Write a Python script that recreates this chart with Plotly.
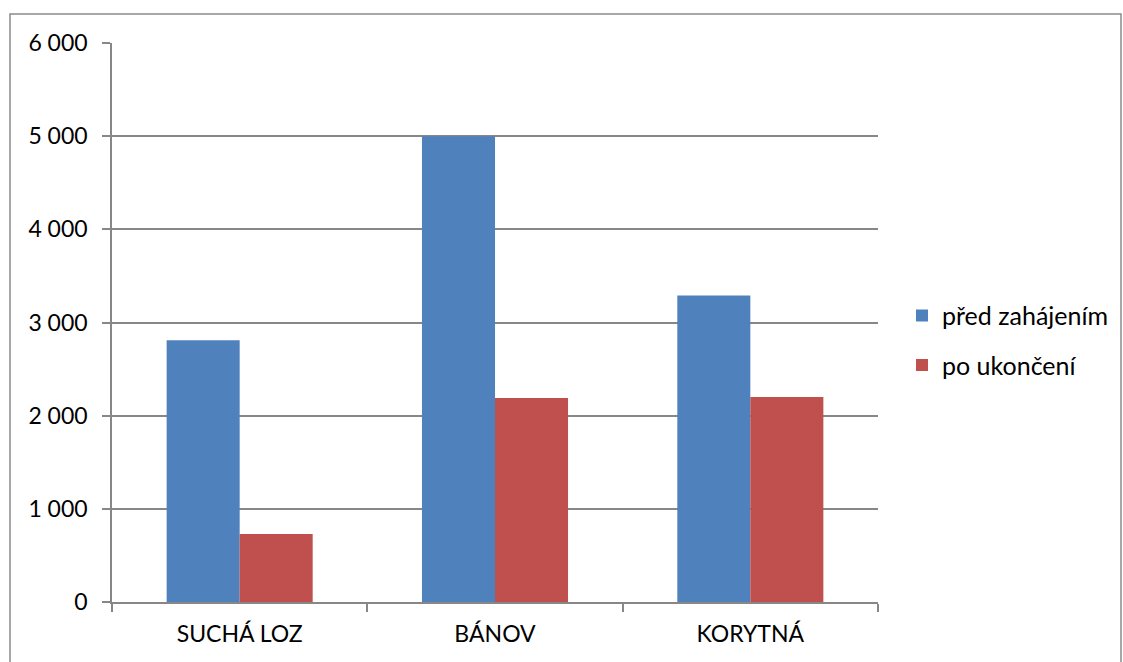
import plotly.graph_objects as go

# Obce a počty před zahájením / po ukončení
categories = ["SUCHÁ LOZ", "BÁNOV", "KORYTNÁ"]
pred_zahajenim = [2810, 5000, 3290]
po_ukonceni = [730, 2190, 2200]
series_names = ["před zahájením", "po ukončení"]
y_ticks = [0, 1000, 2000, 3000, 4000, 5000, 6000]

W, H = 1123, 662
L, R, T, B = 112, 245, 42.5, 59.7
plot_w = W - L - R
plot_h = H - T - B

FONT = "Lato"
FS_TICK = 23
FS_LEG = 25
GRID = "#878787"

fig = go.Figure()
fig.add_trace(go.Bar(
    x=categories, y=pred_zahajenim, name=series_names[0],
    marker=dict(color="#4F81BD", line=dict(width=0)),
    legendgroup="a",
))
fig.add_trace(go.Bar(
    x=categories, y=po_ukonceni, name=series_names[1],
    marker=dict(color="#C0504D", line=dict(width=0)),
    legendgroup="b",
))

# outer chart frame
def px_x(v):
    return (v - L) / plot_w

def px_y(v):
    return (H - B - v) / plot_h

fig.add_shape(
    type="rect", xref="paper", yref="paper",
    x0=px_x(10), x1=px_x(1121), y0=px_y(700), y1=px_y(13.5),
    line=dict(color="#8a8a8a", width=1.5), fillcolor="rgba(0,0,0,0)",
    layer="below",
)

fig.update_layout(
    width=W, height=H,
    margin=dict(l=L, r=R, t=T, b=B, pad=0, autoexpand=False),
    paper_bgcolor="white", plot_bgcolor="white",
    barmode="group", bargap=0.428, bargroupgap=0,
    separators=", ",
    font=dict(family=FONT, size=FS_TICK, color="#000000"),
    showlegend=True,
    legend=dict(
        x=px_x(902), y=px_y(292.5), xanchor="left", yanchor="top",
        font=dict(family=FONT, size=FS_LEG, color="#000000"),
        tracegroupgap=14, traceorder="grouped",
        bgcolor="rgba(0,0,0,0)",
    ),
)

fig.update_xaxes(
    showline=True, linecolor=GRID, linewidth=1.5,
    ticks="outside", tickson="boundaries", ticklen=8, tickcolor=GRID, tickwidth=1.5,
    showgrid=False, ticklabelstandoff=11,
    tickfont=dict(family=FONT, size=FS_TICK, color="#000000"),
)
fig.update_yaxes(
    range=[0, 6000], tickvals=y_ticks, tickformat=",d",
    showline=True, linecolor=GRID, linewidth=1.5,
    ticks="outside", ticklen=8, tickcolor=GRID, tickwidth=1.5,
    showgrid=True, gridcolor=GRID, gridwidth=1.5,
    zeroline=False, ticklabelstandoff=10,
    tickfont=dict(family=FONT, size=FS_TICK, color="#000000"),
)

fig.write_html("out.html")
